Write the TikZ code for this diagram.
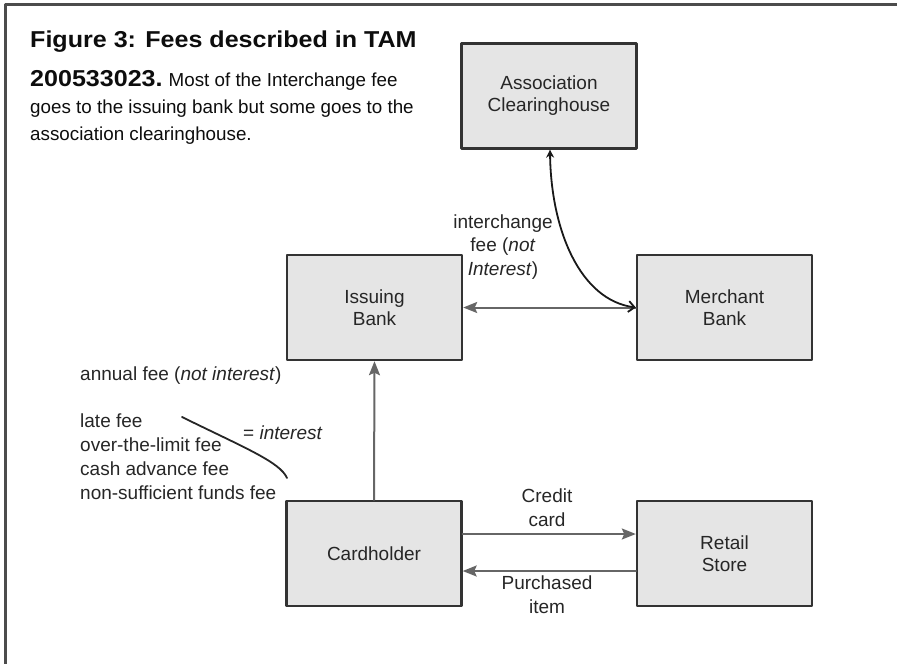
\documentclass[tikz,border=0pt]{standalone}
\usepackage{fontspec}
\setmainfont{Liberation Sans}
\newfontfamily\figbodyfont{Liberation Sans}
\newfontfamily\figtitlefont[FakeStretch=1.09]{Liberation Sans}
\usetikzlibrary{arrows.meta}

\begin{document}
\begin{tikzpicture}[x=1pt,y=-1pt,line cap=round,line join=round,
  box/.style={draw=black!80,line width=2.4pt,fill=black!10,minimum width=175pt,minimum height=105pt,align=center,text=black!85,font=\fontsize{19}{22}\selectfont},
  lab/.style={text=black!85,font=\fontsize{19}{23.7}\selectfont,inner sep=0pt},
  flowline/.style={draw=black!60,line width=2pt},
  gtip/.style={-{Stealth[length=14pt,width=11pt,inset=2.5pt]}},
  captxt/.style={anchor=base west,inner sep=0pt,text=black!95}]
\useasboundingbox (0,0) rectangle (897,664);
\draw[line width=3pt,black!70] (897,4) -- (5,4) -- (5,664);

\node[captxt,font=\figtitlefont\bfseries\fontsize{23}{26}\selectfont] (title) at (30,47) {Figure 3: Fees described in TAM};
\node[captxt] (cap2) at (30,86) {{\figtitlefont\bfseries\fontsize{23}{26}\selectfont 200533023.}\hspace{6pt}{\figbodyfont\fontsize{18.8}{22}\selectfont Most of the Interchange fee}};
\node[captxt,font=\figbodyfont\fontsize{18.8}{22}\selectfont] (cap3) at (30,113) {goes to the issuing bank but some goes to the};
\node[captxt,font=\figbodyfont\fontsize{18.8}{22}\selectfont] (cap4) at (30,140) {association clearinghouse.};

\node[box] (assoc) at (549,96) {Association\\Clearinghouse};
\node[box] (issuing) at (374.5,307.5) {Issuing\\Bank};
\node[box] (merchant) at (724.5,307.5) {Merchant\\Bank};
\node[box] (holder) at (374,553.5) {Cardholder};
\node[box] (retail) at (724.5,553.5) {Retail\\Store};

\draw[flowline,{Stealth[length=14pt,width=11pt,inset=2.5pt]}-] (issuing.east) -- (merchant.west);
\draw[line width=1.8pt,black!90,{Stealth[length=8pt,width=8pt]}-{Straight Barb[length=6pt,width=11pt]}] ([xshift=1pt]assoc.south) .. controls (551,230) and (580,300) .. (merchant.west);
\draw[flowline,gtip] (holder.north) -- (issuing.south);
\draw[flowline,gtip] ([yshift=19.5pt]holder.east) -- ([yshift=19.5pt]retail.west);
\draw[flowline,gtip] ([yshift=-17.5pt]retail.west) -- ([yshift=-17.5pt]holder.east);

\node[lab,align=center] (ifee) at (503,247) {interchange\\fee (\textit{not}\\\textit{Interest})};
\node[lab,align=center] (ccard) at (547,508) {Credit\\card};
\node[lab,align=center] (pitem) at (547,595) {Purchased\\item};
\node[lab,anchor=base west] (annual) at (80,380) {annual fee (\textit{not interest})};
\node[lab,align=left,anchor=north west] (fees) at (80,414) {late fee\\over-the-limit fee\\cash advance fee\\non-sufficient funds fee};
\node[lab,anchor=base west] (eqint) at (243,439) {= \textit{interest}};
\coordinate (brs) at (182,417);
\coordinate (bre) at (287,478);
\draw[line width=1.8pt,black!85] (brs) .. controls (245,448) and (280,462) .. (bre);
\end{tikzpicture}
\end{document}
